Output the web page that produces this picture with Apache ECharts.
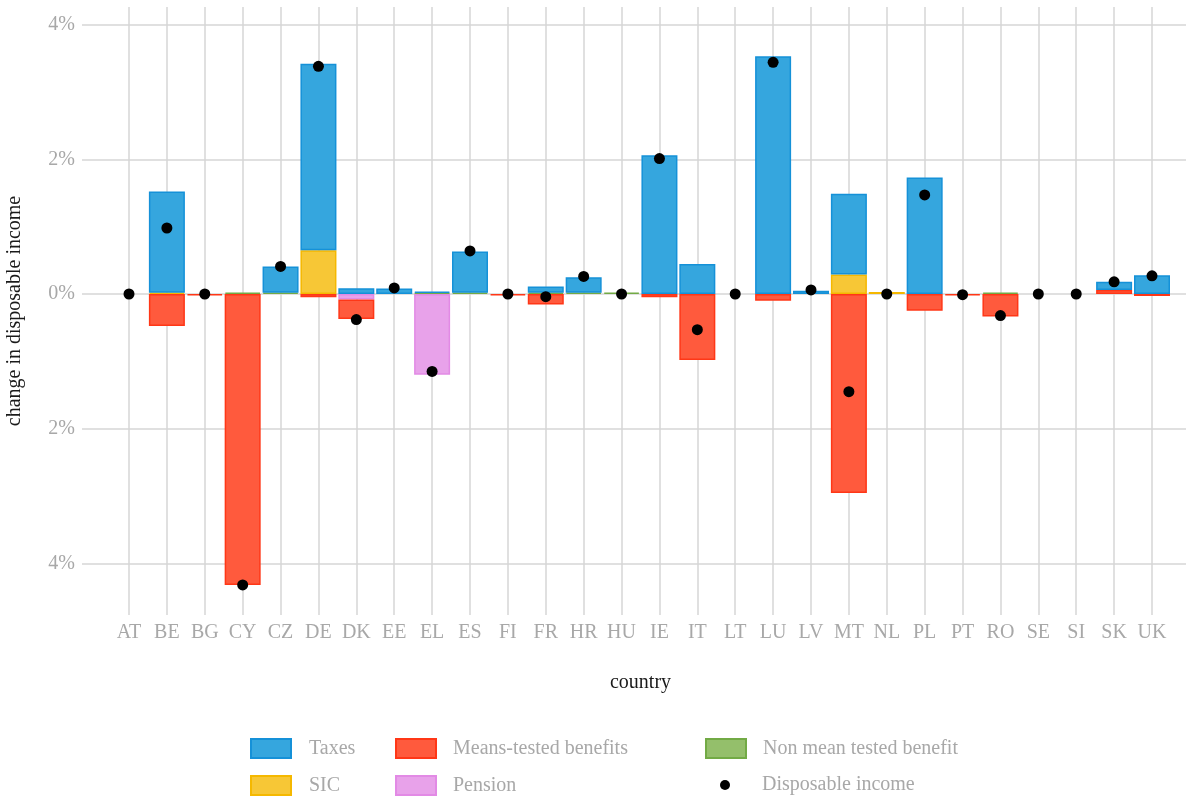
<!DOCTYPE html>
<html>
<head>
<meta charset="utf-8">
<script src="https://cdn.jsdelivr.net/npm/echarts@6/dist/echarts.min.js"></script>
<style>
  html, body { margin: 0; padding: 0; background: #fff; }
  #main { width: 1186px; height: 796px; }
</style>
</head>
<body>
<div id="main"></div>
<script>
var countries = ['AT','BE','BG','CY','CZ','DE','DK','EE','EL','ES','FI','FR','HR','HU',
                 'IE','IT','LT','LU','LV','MT','NL','PL','PT','RO','SE','SI','SK','UK'];

// components, % change in disposable income
var taxes   = [0, 1.5, 0, 0, 0.39, 2.77, 0.085, 0.08, 0.02, 0.61, 0, 0.09, 0.23, 0,
               2.06, 0.445, 0, 3.53, 0.05, 1.2, 0, 1.73, 0, 0, 0, 0, 0.12, 0.28];
var sic     = [0, 0.02, 0, 0, 0, 0.65, 0, 0, 0, 0, 0, 0, 0, 0,
               0, 0, 0, 0, 0, 0.29, 0.03, 0, 0, 0, 0, 0, 0, 0];
var meansTested = [0, -0.475, -0.02, -4.32, 0, -0.05, -0.29, 0, 0, 0, -0.02, -0.155, 0, 0,
               -0.05, -0.98, 0, -0.1, 0, -2.955, 0, -0.25, -0.02, -0.335, 0, 0, 0.06, -0.03];
var pension = [0, 0, 0, 0, 0, 0, -0.08, 0, -1.2, 0, 0, 0, 0, 0,
               0, 0, 0, 0, 0, 0, 0, 0, 0, 0, 0, 0, 0, 0];
var nonMeans = [0, 0, 0, 0.02, 0.02, 0, 0, 0, 0.015, 0.02, 0, 0.02, 0.02, 0.02,
               0, 0, 0, 0, 0, 0, 0, 0, 0, 0.02, 0, 0, 0, 0];
var disposable = [0, 0.98, 0, -4.32, 0.41, 3.38, -0.38, 0.09, -1.15, 0.64, 0, -0.04, 0.26, 0,
               2.01, -0.53, 0, 3.44, 0.06, -1.45, 0, 1.47, -0.01, -0.32, 0, 0, 0.18, 0.27];

var FONT = 'Liberation Serif';
var FS = 20;
var GREY = '#a8a8a8';
var GRID_LINE = { color: '#d6d6d6', width: 1.5 };

// 0 means no bar at all
function noZero(arr) {
    return arr.map(function (v) { return v === 0 ? '-' : v; });
}

function barSeries(name, data, fill, border) {
    return {
        name: name,
        type: 'bar',
        stack: 'total',
        xAxisIndex: 0,
        yAxisIndex: 0,
        barWidth: 36,
        clip: false,
        data: noZero(data),
        itemStyle: { color: fill, borderColor: border, borderWidth: 1.5 }
    };
}

function legendBox(left, top, names, w, h, pad, icon) {
    return {
        orient: 'vertical',
        left: left,
        top: top,
        padding: 0,
        icon: icon,
        itemWidth: w,
        itemHeight: h,
        itemGap: 16,
        data: names,
        formatter: function (n) { return '{t|' + n + '}'; },
        textStyle: {
            color: GREY, fontFamily: FONT, fontSize: FS,
            rich: { t: { color: GREY, fontFamily: FONT, fontSize: FS, padding: [0, 0, 0, pad] } }
        }
    };
}

var chart = echarts.init(document.getElementById('main'));
chart.setOption({
    animation: false,
    backgroundColor: '#fff',
    grid: [
        { left: 129, right: 34, top: 7, bottom: 181, outerBoundsMode: 'none', containLabel: false },
        { left: 82, right: 0, top: 24.6, bottom: 232.6, outerBoundsMode: 'none', containLabel: false }
    ],
    xAxis: [
        {
            type: 'category',
            gridIndex: 0,
            data: countries,
            boundaryGap: false,
            axisLine: { show: false },
            axisTick: { show: false },
            axisLabel: { interval: 0, margin: 8, color: GREY, fontFamily: FONT, fontSize: FS },
            splitLine: { show: true, interval: 0, lineStyle: GRID_LINE },
            name: 'country',
            nameLocation: 'middle',
            nameGap: 58,
            nameTextStyle: { color: '#1a1a1a', fontFamily: FONT, fontSize: FS }
        },
        {
            type: 'value',
            gridIndex: 1,
            show: false
        }
    ],
    yAxis: [
        {
            type: 'value',
            gridIndex: 0,
            min: -4.766,
            max: 4.261,
            axisLine: { show: false },
            axisTick: { show: false },
            axisLabel: { show: false },
            splitLine: { show: false },
            name: 'change in disposable income',
            nameLocation: 'middle',
            nameGap: 104,
            nameTextStyle: { color: '#1a1a1a', fontFamily: FONT, fontSize: FS }
        },
        {
            type: 'value',
            gridIndex: 1,
            min: -4,
            max: 4,
            interval: 2,
            axisLine: { show: false },
            axisTick: { show: false },
            axisLabel: {
                margin: 7,
                color: GREY,
                fontFamily: FONT,
                fontSize: FS,
                formatter: function (v) { return Math.abs(v) + '%'; }
            },
            splitLine: { show: true, lineStyle: GRID_LINE }
        }
    ],
    legend: [
        legendBox(250, 738, ['Taxes', 'SIC'], 40, 19, 13, 'rect'),
        legendBox(395, 738, ['Means-tested benefits', 'Pension'], 40, 19, 12, 'rect'),
        legendBox(705, 738, ['Non mean tested benefit'], 40, 19, 12, 'rect'),
        legendBox(720, 775, ['Disposable income'], 10, 10, 27, 'circle')
    ],
    series: [
        barSeries('Non mean tested benefit', nonMeans, '#94bf6b', '#72aa45'),
        barSeries('Pension', pension, '#e8a2ea', '#e28ae5'),
        barSeries('Means-tested benefits', meansTested, '#ff5a3d', '#ff3717'),
        barSeries('SIC', sic, '#f7c736', '#f5b800'),
        barSeries('Taxes', taxes, '#35a6de', '#1591d8'),
        {
            name: 'Disposable income',
            type: 'scatter',
            xAxisIndex: 0,
            yAxisIndex: 0,
            symbol: 'circle',
            symbolSize: 11,
            z: 5,
            itemStyle: { color: '#000', opacity: 1 },
            data: disposable
        }
    ]
});
</script>
</body>
</html>
